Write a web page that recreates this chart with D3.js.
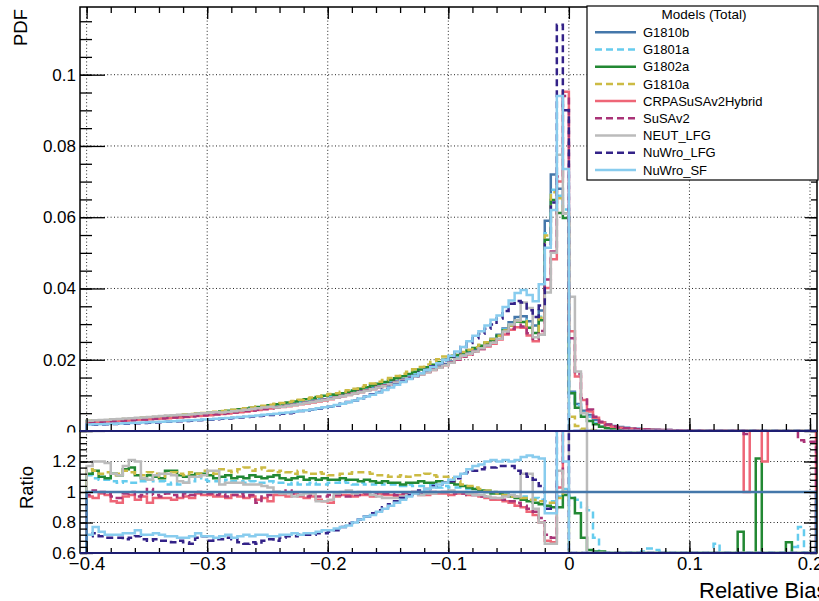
<!DOCTYPE html>
<html><head><meta charset="utf-8">
<script src="https://cdn.jsdelivr.net/npm/d3@7"></script>
<style>body{margin:0;background:#fff}svg{display:block}text{font-family:"Liberation Sans",Arial,Helvetica,sans-serif;fill:#000}</style>
</head><body><svg id="c" width="819" height="601"></svg>
<script>
// ---------- DATA ----------
// 121 bins of width 0.005 from -0.4 to 0.205
const binLo = -0.4, binHi = 0.205, nBins = 121;
const seriesNames = ["G1810b","G1801a","G1802a","G1810a","CRPASuSAv2Hybrid","SuSAv2","NEUT_LFG","NuWro_LFG","NuWro_SF"];
const seriesColors = ["#4477AA","#66CCEE","#228833","#CCBB44","#EE6677","#AA3377","#BBBBBB","#332288","#88CCEE"];
const seriesDashed = [false,true,false,true,false,true,false,true,false];
const xTickValues = [-0.4,-0.3,-0.2,-0.1,0,0.1,0.2];
const xTickLabels = ["\u22120.4","\u22120.3","\u22120.2","\u22120.1","0","0.1","0.2"];
const pdfTickValues = [0,0.02,0.04,0.06,0.08,0.1];
const pdfTickLabels = ["0","0.02","0.04","0.06","0.08","0.1"];
const ratioTickValues = [0.6,0.8,1,1.2];
const ratioTickLabels = ["0.6","0.8","1","1.2"];

const pdf_G1810b = [.00250,.00258,.00266,.00274,.00283,.00291,.00300,.00310,.00319,.00329,.00339,.00350,.00361,.00372,.00384,.00396,.00408,.00421,.00434,.00447,
.00461,.00477,.00494,.00511,.00529,.00548,.00567,.00587,.00608,.00629,.00651,.00674,.00698,.00723,.00748,.00775,.00802,.00830,.00859,.00890,
.00921,.00956,.00993,.01031,.01070,.01111,.01154,.01198,.01244,.01291,.01341,.01392,.01446,.01501,.01559,.01618,.01680,.01745,.01812,.01881,
.01953,.0203,.0211,.0219,.0228,.0237,.0247,.0258,.0270,.0288,.0305,.0320,.0322,.0308,.0296,.0338,.0590,.0720,.0680,.0610,
.0110,.0076,.0057,.0045,.0031,.0024,.0018,.0014,.0011,.0009,.0007,.0006,.0005,.00042,.00036,.0003,.00026,.00022,.00019,.00016,
.00014,.00012,.0001,.00009,.00008,.00007,.00006,.00005,.00005,.00004,.00004,.00003,.00003,.00003,.00002,.00002,.00002,.00002,.00001,.00001,.00001];
const pdf_G1801a = [.00268,.00276,.00285,.00293,.00303,.00311,.00321,.00332,.00341,.00352,.00363,.00375,.00386,.00398,.00411,.00424,.00437,.00450,.00464,.00478,
.00493,.00510,.00529,.00547,.00566,.00586,.00607,.00628,.00651,.00673,.00697,.00721,.00747,.00774,.00800,.00829,.00858,.00888,.00919,.00952,.00985,
.01004,.01043,.01083,.01124,.01167,.01212,.01258,.01306,.01356,.01408,.01462,.01518,.01576,.01637,.01699,.01764,.01832,.01903,.01975,.02051,
.0209,.0217,.0223,.0233,.0239,.0249,.0258,.0267,.0285,.0299,.0310,.0312,.0296,.0284,.0321,.0555,.0677,.0660,.0622,
.0107,.0072,.0051,.0040,.0022,.0012,.0008,.0005,.0003,.0002,0,0,0,0,0,0,0,0,0,0,0,0,0,0,0,0,0,0,0,0,0,0,0,0,0,0,0,0,0,0,0];
const pdf_G1802a = [.00278,.00286,.00295,.00304,.00314,.00323,.00333,.00344,.00354,.00365,.00376,.00389,.00401,.00413,.00426,.00440,.00453,.00467,.00482,.00496,
.00512,.00529,.00548,.00567,.00587,.00608,.00629,.00652,.00675,.00698,.00723,.00748,.00775,.00803,.00830,.00860,.00890,.00921,.00953,.00988,.01022,
.01018,.01058,.01098,.01140,.01183,.01229,.01276,.01325,.01375,.01428,.01482,.01540,.01599,.01660,.01723,.01789,.01858,.01930,.02003,.02080,
.0213,.0219,.0226,.0233,.0239,.0247,.0255,.0267,.0282,.0296,.0307,.0306,.0290,.0275,.0311,.0537,.0648,.0612,.0598,
.0106,.0065,.0040,.0028,.0019,.0012,.0008,.0005,.0003,.0002,0,0,0,0,0,0,0,0,0,0,0,0,0,0,0,0,0,0,0,0,0,0,0,0,0,0,0,0,0,0,0];
const pdf_G1810a = [.00283,.00292,.00301,.00310,.00320,.00329,.00339,.00350,.00360,.00372,.00383,.00396,.00408,.00420,.00434,.00447,.00461,.00476,.00490,.00505,
.00521,.00539,.00558,.00577,.00598,.00619,.00641,.00663,.00687,.00711,.00736,.00762,.00789,.00817,.00845,.00876,.00906,.00938,.00971,.01006,.01041,
.01061,.01102,.01144,.01188,.01233,.01281,.01330,.01381,.01433,.01489,.01545,.01605,.01666,.01730,.01796,.01865,.01937,.02011,.02088,.02129,
.0217,.0222,.0228,.0235,.0242,.0249,.0258,.0267,.0282,.0296,.0310,.0309,.0293,.0281,.0318,.0549,.0670,.0653,.0610,
.0040,.0014,.0006,.0003,.0002,.0001,0,0,0,0,0,0,0,0,0,0,0,0,0,0,0,0,0,0,0,0,0,0,0,0,0,0,0,0,0,0,0,0,0,0,0];
const pdf_CRPA = [.00241,.00249,.00257,.00264,.00273,.00281,.00290,.00299,.00308,.00317,.00327,.00338,.00348,.00359,.00371,.00382,.00394,.00406,.00419,.00431,
.00445,.00460,.00477,.00493,.00510,.00529,.00547,.00566,.00587,.00607,.00628,.00650,.00674,.00698,.00722,.00748,.00774,.00801,.00829,.00859,.00889,
.00937,.00973,.01010,.01049,.01089,.01131,.01174,.01219,.01265,.01314,.01364,.01417,.01471,.01528,.01586,.01646,.01710,.01776,.01843,.01914,
.0201,.0209,.0215,.0223,.0230,.0237,.0245,.0257,.0271,.0284,.0291,.0290,.0268,.0252,.0270,.0401,.0482,.0700,.0952,
.0280,.0153,.0087,.0055,.0037,.0024,.0016,.0012,.0009,.0007,.0006,.0005,.0004,.00035,.0003,.00025,.0002,.00018,.00015,.00012,
.0001,.00009,.00008,.00007,.00006,.00005,.00005,.00004,.00004,.00003,.00003,.00003,.00002,.00002,.00002,.00002,.00001,.00001,.00001,.00001,.00001];
const pdf_SuSAv2 = [.00246,.00254,.00262,.00270,.00279,.00287,.00296,.00305,.00314,.00324,.00334,.00345,.00356,.00366,.00378,.00390,.00402,.00415,.00427,.00440,
.00454,.00470,.00487,.00503,.00521,.00540,.00558,.00578,.00599,.00620,.00641,.00664,.00688,.00712,.00737,.00763,.00790,.00818,.00846,.00877,.00907,
.00946,.00983,.01021,.01059,.01100,.01142,.01186,.01232,.01278,.01328,.01378,.01432,.01486,.01543,.01602,.01663,.01728,.01794,.01862,.01933,
.0201,.0209,.0215,.0223,.0230,.0240,.0248,.0259,.0274,.0287,.0298,.0293,.0274,.0258,.0281,.0425,.0504,.0714,.0940,
.0260,.0160,.0092,.0060,.0040,.0026,.0018,.0013,.0010,.0008,.0006,.0005,.0004,.0004,.0003,.0003,.00025,.0002,.00018,.00015,
.00013,.00011,.0001,.00009,.00008,.00007,.00006,.00005,.00005,.00004,.00004,.00004,.00003,.00003,.00003,.00002,.00002,.00002,.00002,.00002,.00002];
const pdf_NEUT = [.00290,.00299,.00309,.00318,.00328,.00338,.00348,.00360,.00370,.00382,.00393,.00406,.00419,.00432,.00445,.00459,
.00453,.00467,.00482,.00496,.00512,.00529,
.00519,.00537,.00555,.00575,.00595,.00616,.00638,.00660,.00684,
.00661,.00684,.00709,.00733,.00760,.00786,.00813,.00842,.00872,.00903,
.00937,.00973,.01010,.01049,.01089,.01131,.01174,.01219,.01265,.01314,.01364,.01417,.01471,.01528,.01586,.01646,.01710,.01776,.01843,.01914,
.0203,.0211,.0217,.0223,.0232,.0240,.0248,.0259,.0279,.0299,.0310,.0361,.0345,.0263,.0270,.0389,.0500,.0775,.0610,
.0377,.0167,.0050,0,0,0,0,0,0,0,0,0,0,0,0,0,0,0,0,0,0,0,0,0,0,0,0,0,0,0,0,0,0,0,0,0,0,0,0,0,0];
const pdf_NuWroLFG = [.00173,.00178,.00184,.00189,.00195,.00201,.00207,.00214,.00220,.00227,.00234,.00242,.00249,.00257,.00265,.00273,.00282,.00290,.00299,.00308,
.00318,.00329,.00341,.00353,.00365,.00378,.00391,.00405,.00420,.00434,.00449,.00465,.00482,.00499,.00516,.00558,.00577,.00598,.00627,.00650,.00682,
.00717,.00765,.00814,.00856,.00911,.00969,.01030,.01095,.01162,.01234,.01308,.01388,.01471,.01543,.01634,.01714,.01815,.01903,.01994,.02090,
.0221,.0236,.0247,.0260,.0273,.0287,.0299,.0316,.0337,.0357,.0365,.0361,.0339,.0320,.0352,.0525,.0641,.1140,.0900,
0,0,0,0,0,0,0,0,0,0,0,0,0,0,0,0,0,0,0,0,0,0,0,0,0,0,0,0,0,0,0,0,0,0,0,0,0,0,0,0,0];
const pdf_NuWroSF = [.00180,.00186,.00192,.00197,.00204,.00210,.00216,.00223,.00230,.00237,.00244,.00252,.00260,.00268,.00276,.00285,.00294,.00303,.00312,.00322,
.00332,.00343,.00356,.00368,.00381,.00395,.00408,.00423,.00438,.00453,.00469,.00485,.00503,.00521,.00539,.00558,.00585,.00606,.00636,.00668,.00691,
.00727,.00765,.00804,.00856,.00911,.00969,.01018,.01082,.01149,.01220,.01295,.01374,.01456,.01543,.01618,.01714,.01797,.01903,.01994,.02109,
.0223,.0236,.0252,.0267,.0280,.0296,.0312,.0324,.0348,.0366,.0387,.0396,.0382,.0364,.0412,.0514,.0620,.0940,.0735,
0,0,0,0,0,0,0,0,0,0,0,0,0,0,0,0,0,0,0,0,0,0,0,0,0,0,0,0,0,0,0,0,0,0,0,0,0,0,0,0,0];

// Ratio to G1810b (0 = below range, 2 = above range)
const ratio_G1810b = [1,1,1,1,1,1,1,1,1,1,1,1,1,1,1,1,1,1,1,1,1,1,1,1,1,1,1,1,1,1,1,1,1,1,1,1,1,1,1,1,1,1,1,1,1,1,1,1,1,1,1,1,1,1,1,1,1,1,1,1,
1,1,1,1,1,1,1,1,1,1,1,1,1,1,1,1,1,1,1,1,1,1,1,1,1,1,1,1,1,1,1,1,1,1,1,1,1,1,1,1,1,1,1,1,1,1,1,1,1,1,1,1,1,1,1,1,1,1,1,1,1];
const ratio_G1801a = [1.11,1.09,1.08,1.08,1.07,1.06,1.07,1.06,1.06,1.07,1.08,1.07,1.07,1.05,1.06,1.05,1.06,1.07,1.11,1.08,1.07,1.07,1.06,1.08,1.07,1.07,1.06,1.07,1.06,1.06,1.07,1.06,1.06,1.05,1.06,1.05,1.05,1.06,1.05,1.05,1.06,
1.06,1.07,1.06,1.05,1.06,1.05,1.05,1.06,1.05,1.05,1.05,1.04,1.05,1.04,1.04,1.04,1.05,1.03,1.04,1.03,
1.03,1.03,1.02,1.02,1.01,1.01,1.00,0.99,0.99,0.98,0.97,0.97,0.96,0.96,0.95,0.94,0.94,0.97,1.02,
0.97,0.95,0.90,0.88,0.70,0,0,0,0,0,0,0,0.61,0.63,0.62,0.61,0,0,0,0,0,0,0,0,0.66,0,0,0,0,0,0,0,0,0,0,0,0,0.64,0.77,0,0];
const ratio_G1802a = [1.12,1.14,1.10,1.09,1.12,1.11,1.15,1.16,1.11,1.09,1.11,1.10,1.09,1.14,1.14,1.11,1.10,1.11,1.12,1.12,1.11,1.09,1.10,1.11,1.09,1.10,1.09,1.11,1.10,1.09,1.10,1.11,1.09,1.08,1.09,1.10,1.08,1.09,1.08,1.09,1.08,
1.08,1.09,1.08,1.08,1.07,1.08,1.07,1.06,1.07,1.06,1.06,1.05,1.06,1.06,1.07,1.06,1.06,1.07,1.06,1.06,
1.05,1.04,1.03,1.02,1.01,1.00,0.99,0.99,0.98,0.97,0.96,0.95,0.94,0.93,0.92,0.91,0.90,0.90,0.98,
0.96,0.86,0.70,0.62,0.61,0.61,0,0,0,0,0,0,0,0,0,0,0,0,0,0,0,0,0,0,0,0,0,0,0.74,0,0,1.22,0,0,0,0,0.67,0,0,0,0];
const ratio_G1810a = [1.15,1.14,1.12,1.13,1.11,1.12,1.14,1.13,1.12,1.11,1.13,1.12,1.10,1.12,1.13,1.12,1.11,1.13,1.12,1.14,1.13,1.12,1.15,1.14,1.13,1.15,1.16,1.14,1.15,1.16,1.14,1.13,1.14,1.13,1.12,1.14,1.13,1.12,1.13,1.12,1.11,
1.11,1.12,1.12,1.13,1.13,1.13,1.12,1.11,1.11,1.10,1.10,1.11,1.10,1.11,1.11,1.12,1.11,1.10,1.10,1.09,
1.07,1.05,1.04,1.03,1.02,1.01,1.00,0.99,0.98,0.97,0.97,0.96,0.95,0.95,0.94,0.93,0.93,0.96,1.00,
0,0,0,0,0,0,0,0,0,0,0,0,0,0,0,0,0,0,0,0,0,0,0,0,0,0,0,0,0,0,0,0,0,0,0,0,0,0,0,0,0];
const ratio_CRPA = [0.97,0.96,0.99,0.98,0.94,0.93,0.97,0.98,0.95,0.97,0.93,0.96,0.96,0.96,0.95,0.96,0.97,0.96,0.99,0.98,0.98,0.97,0.97,0.96,0.98,0.97,0.96,0.97,0.95,0.96,0.94,0.98,0.98,0.97,0.99,0.97,0.96,0.97,0.95,0.94,0.93,
0.97,0.98,0.98,0.97,0.98,0.98,0.97,0.99,0.98,0.98,0.97,0.98,0.98,0.99,0.98,0.98,0.99,0.99,0.99,0.98,
0.99,0.99,0.98,0.98,0.97,0.96,0.95,0.95,0.94,0.93,0.91,0.90,0.87,0.85,0.80,0.68,0.67,1.03,1.56,
2,2,2,2,2,2,2,2,2,2,2,2,2,2,2,2,2,2,2,2,2,2,2,2,2,2,2,2,2,1.0,2,2,1.2,2,2,2,2,2,2,2,2];
const ratio_SuSAv2 = [0.98,1.01,1.00,0.99,0.97,0.96,0.99,1.00,0.97,0.98,1.02,0.98,0.97,0.99,0.98,0.97,0.99,0.98,1.00,0.99,0.99,0.98,0.99,0.97,0.98,0.99,0.97,0.98,0.93,0.97,0.98,1.00,0.99,1.01,0.99,0.98,0.97,0.98,0.97,0.97,0.98,
0.98,0.98,0.97,0.98,0.98,0.99,0.98,0.99,0.99,0.99,0.98,0.99,0.99,1.00,0.99,0.99,1.00,1.00,1.00,1.00,
0.99,0.99,0.98,0.98,0.97,0.97,0.96,0.96,0.95,0.94,0.93,0.91,0.89,0.87,0.83,0.72,0.70,1.05,1.54,
2,2,2,2,2,2,2,2,2,2,2,2,2,2,2,2,2,2,2,2,2,2,2,2,2,2,2,2,2,1.38,2,2,2,2,2,2,2,2,1.34,1.33,1.33];
const ratio_NEUT = [1.17,1.20,1.20,1.19,1.12,1.11,1.17,1.21,1.20,1.09,1.08,1.11,1.12,1.12,1.11,1.07,1.06,1.10,1.10,1.11,1.14,1.14,1.05,1.06,1.06,1.06,1.05,1.05,1.05,1.04,1.03,1.00,0.99,0.99,0.97,0.98,0.99,0.99,0.94,0.94,0.95,
0.99,1.00,1.01,0.99,1.00,1.00,0.98,0.97,0.96,0.96,0.96,0.97,0.98,0.99,0.98,0.99,0.99,1.00,1.00,1.01,
1.00,1.00,0.99,0.98,0.98,0.97,0.96,0.96,0.97,0.98,0.97,1.12,1.12,0.89,0.80,0.66,0.66,1.14,1.00,
2,2,2,0,0,0,0,0,0,0,0,0,0,0,0,0,0,0,0,0,0,0,0,0,0,0,0,0,0,0,0,0,0,0,0,0,0,0,0,0,0];
const ratio_NuWroLFG = [0.71,0.73,0.71,0.70,0.70,0.70,0.69,0.70,0.71,0.69,0.68,0.69,0.68,0.68,0.67,0.68,0.67,0.66,0.70,0.71,0.68,0.69,0.69,0.70,0.69,0.67,0.66,0.67,0.66,0.68,0.69,0.68,0.70,0.71,0.71,0.72,0.72,0.72,0.73,0.73,0.74,
0.75,0.77,0.79,0.80,0.82,0.84,0.86,0.88,0.90,0.92,0.94,0.96,0.98,0.99,1.01,1.02,1.04,1.05,1.06,1.07,
1.09,1.12,1.13,1.14,1.15,1.16,1.16,1.17,1.17,1.17,1.14,1.12,1.10,1.08,1.04,0.89,0.89,2,2,
0,0,0,0,0,0,0,0,0,0,0,0,0,0,0,0,0,0,0,0,0,0,0,0,0,0,0,0,0,0,0,0,0,0,0,0,0,0,0,0,0];
const ratio_NuWroSF = [0.72,0.77,0.74,0.72,0.72,0.72,0.73,0.73,0.75,0.72,0.72,0.73,0.72,0.71,0.71,0.70,0.70,0.71,0.73,0.71,0.71,0.70,0.71,0.72,0.70,0.71,0.72,0.71,0.72,0.72,0.71,0.71,0.72,0.72,0.73,0.72,0.73,0.73,0.74,0.75,0.75,
0.76,0.77,0.78,0.80,0.82,0.84,0.85,0.87,0.89,0.91,0.93,0.95,0.97,0.99,1.00,1.02,1.03,1.05,1.06,1.08,
1.10,1.12,1.15,1.17,1.18,1.20,1.21,1.20,1.21,1.20,1.21,1.23,1.24,1.23,1.22,0.86,0.86,2,1.2,
0,0,0,0,0,0,0,0,0,0,0,0,0,0,0,0,0,0,0,0,0,0,0,0,0,0,0,0,0,0,0,0,0,0,0,0,0,0,0,0,0];

const pdfSeries = [pdf_G1810b,pdf_G1801a,pdf_G1802a,pdf_G1810a,pdf_CRPA,pdf_SuSAv2,pdf_NEUT,pdf_NuWroLFG,pdf_NuWroSF];
const ratioSeries = [ratio_G1810b,ratio_G1801a,ratio_G1802a,ratio_G1810a,ratio_CRPA,ratio_SuSAv2,ratio_NEUT,ratio_NuWroLFG,ratio_NuWroSF];

// ---------- LAYOUT ----------
const W = 819, H = 601;
const X0 = 80, X1 = 817, TY0 = 7, TY1 = 431, RY0 = 431, RY1 = 553;
const FONT = '"Liberation Sans",Arial,Helvetica,sans-serif';
const svg = d3.select("#c");
svg.append("rect").attr("width", W).attr("height", H).attr("fill", "#fff");

const x = d3.scaleLinear().domain([-0.4055, 0.2058]).range([X0, X1]);
const yTop = d3.scaleLinear().domain([0, 0.119]).range([TY1, TY0]);
const yRat = d3.scaleLinear().domain([0.6, 1.4]).range([RY1, RY0]);
const bw = (binHi - binLo) / nBins;

const defs = svg.append("defs");
defs.append("clipPath").attr("id", "clipTop").append("rect").attr("x", X0).attr("y", TY0).attr("width", X1 - X0).attr("height", TY1 - TY0);
defs.append("clipPath").attr("id", "clipRat").append("rect").attr("x", X0).attr("y", RY0).attr("width", X1 - X0).attr("height", RY1 - RY0);

function histPoints(vals, lo, hi) {
  const pts = [[binLo, lo]];
  vals.forEach((v, i) => {
    const a = binLo + i * bw, b = binLo + (i + 1) * bw;
    const c = Math.max(lo, Math.min(hi, v));
    pts.push([a, c], [b, c]);
  });
  pts.push([binHi, lo]);
  return pts;
}

function gridLines(yScale, yVals, ya, yb) {
  const g = svg.append("g").attr("stroke", "#222").attr("stroke-width", 1).attr("stroke-dasharray", "1,2.4").attr("fill", "none");
  xTickValues.forEach(v => g.append("line").attr("x1", x(v)).attr("x2", x(v)).attr("y1", ya).attr("y2", yb));
  yVals.forEach(v => g.append("line").attr("x1", X0).attr("x2", X1).attr("y1", yScale(v)).attr("y2", yScale(v)));
}

function axis(gen, tx, ty, size, vals, labels, fs) {
  gen.tickValues(vals).tickSize(size).tickPadding(4).tickFormat(labels ? ((d, i) => labels[i]) : "");
  const g = svg.append("g").attr("transform", `translate(${tx},${ty})`).call(gen);
  g.select(".domain").remove();
  g.selectAll("line").attr("stroke", "#000").attr("stroke-width", 1.3);
  g.selectAll("text").attr("font-family", FONT).attr("font-size", fs || 17).attr("fill", "#000");
  return g;
}

function drawSeries(clip, yScale, dataArr, lo, hi, order) {
  const g = svg.append("g").attr("clip-path", `url(#${clip})`);
  const line = d3.line().x(d => x(d[0])).y(d => yScale(d[1]));
  order.forEach(k => {
    g.append("path").attr("d", line(histPoints(dataArr[k], lo, hi)))
      .attr("fill", "none").attr("stroke", seriesColors[k]).attr("stroke-width", 2.5)
      .attr("stroke-linejoin", "miter")
      .attr("stroke-dasharray", seriesDashed[k] ? "7,4" : null);
  });
}

// ---------- TOP PAD ----------
gridLines(yTop, pdfTickValues.filter(v => v > 0), TY0, TY1);
drawSeries("clipTop", yTop, pdfSeries, 0, 1, d3.range(9));

const xMinor = d3.range(-0.4, 0.2001, 0.02);
const pdfMinor = d3.range(0, 0.1191, 0.005);
axis(d3.axisLeft(yTop), X0, 0, -25, pdfTickValues, pdfTickLabels, 17);
axis(d3.axisLeft(yTop), X0, 0, -12, pdfMinor, null);
axis(d3.axisRight(yTop), X1, 0, -12, pdfTickValues, null);
axis(d3.axisRight(yTop), X1, 0, -6, pdfMinor, null);
axis(d3.axisTop(x), 0, TY0, -12, xTickValues, null);
axis(d3.axisTop(x), 0, TY0, -6, xMinor, null);
axis(d3.axisBottom(x), 0, TY1, -13, xTickValues, null);
axis(d3.axisBottom(x), 0, TY1, -7, xMinor, null);

svg.append("rect").attr("x", X0).attr("y", TY0).attr("width", X1 - X0).attr("height", TY1 - TY0)
  .attr("fill", "none").attr("stroke", "#000").attr("stroke-width", 1.5);

svg.append("text").attr("transform", "translate(27,9) rotate(-90)").attr("text-anchor", "end")
  .attr("font-size", 18.5).attr("font-family", FONT).text("PDF");

// ---------- BOTTOM PAD ----------
svg.append("rect").attr("x", 0).attr("y", 432.5).attr("width", W).attr("height", H - 432.5).attr("fill", "#fff");
gridLines(yRat, [0.8, 1.2], RY0, RY1);
drawSeries("clipRat", yRat, ratioSeries, 0.6, 1.6, [1, 2, 3, 4, 5, 6, 7, 8, 0]);

const ratMajor = [0.6, 0.8, 1, 1.2, 1.4];
const ratMinor = d3.range(0.6, 1.4001, 0.04);
axis(d3.axisLeft(yRat), X0, 0, -13, ratioTickValues, ratioTickLabels, 17);
axis(d3.axisLeft(yRat), X0, 0, -13, [1.4], null);
axis(d3.axisLeft(yRat), X0, 0, -7, ratMinor, null);
axis(d3.axisRight(yRat), X1, 0, -13, ratMajor, null);
axis(d3.axisRight(yRat), X1, 0, -7, ratMinor, null);
axis(d3.axisBottom(x), 0, RY1, -12, xTickValues, xTickLabels, 18.5);
axis(d3.axisBottom(x), 0, RY1, -5, xMinor, null);

svg.append("rect").attr("x", X0).attr("y", RY0).attr("width", X1 - X0).attr("height", RY1 - RY0)
  .attr("fill", "none").attr("stroke", "#000").attr("stroke-width", 1.5);
[TY1, RY1].forEach(yy => svg.append("line").attr("x1", X0).attr("x2", X1).attr("y1", yy).attr("y2", yy)
  .attr("stroke", "#1e1e72").attr("stroke-width", 2.2));

svg.append("text").attr("transform", "translate(33,487.5) rotate(-90)").attr("text-anchor", "middle")
  .attr("font-size", 18.5).attr("font-family", FONT).text("Ratio");
svg.append("text").attr("x", 699).attr("y", 598).attr("font-size", 22).attr("font-family", FONT).text("Relative Bias");

// ---------- LEGEND ----------
const lg = svg.append("g");
lg.append("rect").attr("x", 587).attr("y", 6).attr("width", 231).attr("height", 174)
  .attr("fill", "#fff").attr("stroke", "#000").attr("stroke-width", 1.2);
lg.append("text").attr("x", 704).attr("y", 18.5).attr("text-anchor", "middle")
  .attr("font-size", 13.5).attr("font-family", FONT).text("Models (Total)");
seriesNames.forEach((n, k) => {
  const yy = 32.3 + 17.2 * k;
  lg.append("line").attr("x1", 595).attr("x2", 636).attr("y1", yy).attr("y2", yy)
    .attr("stroke", seriesColors[k]).attr("stroke-width", 2.5)
    .attr("stroke-dasharray", seriesDashed[k] ? "7,4" : null);
  lg.append("text").attr("x", 643).attr("y", yy + 4.7).attr("font-size", 13).attr("font-family", FONT).text(n);
});
</script>
</body></html>
